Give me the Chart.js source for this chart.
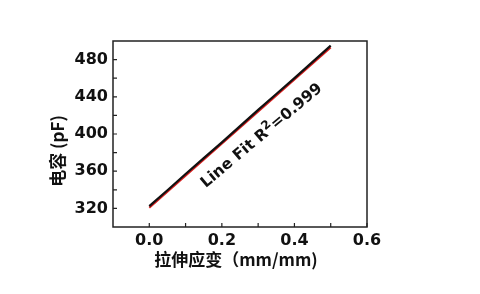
<!DOCTYPE html>
<html>
<head>
<meta charset="utf-8">
<script src="https://cdn.jsdelivr.net/npm/chart.js@4/dist/chart.umd.min.js"></script>
<style>
    html, body { margin: 0; padding: 0; background: #fff; }
    #wrap { width: 480px; height: 294px; }
</style>
</head>
<body>
<div id="wrap"><canvas id="chart" width="480" height="294"></canvas></div>
<script>
// measured strain (mm/mm) vs capacitance (pF)
const strain = [0, 0.05, 0.1, 0.15, 0.2, 0.25, 0.3, 0.35, 0.4, 0.45, 0.5];
const capacitance = [322.5, 339.5, 357, 374, 391, 408.5, 426, 443, 460, 477.5, 495];

// linear fit end points
const fitStrain = [0, 0.5];
const fitCapacitance = [320.8, 493];

const xTicks = [0, 0.2, 0.4, 0.6];
const xMinorTicks = [0.1, 0.3, 0.5];
const yTicks = [320, 360, 400, 440, 480];
const yMinorTicks = [340, 380, 420, 460];

const xTitle = "拉伸应变（mm/mm)";
const yTitle = "电容 (pF)";
const fitLabel = { x: 0.31, y: 398, text: "Line Fit R", sup: "2", tail: "=0.999" };

const FONT = "'DejaVu Sans', sans-serif";
const CJK = "'Noto Sans CJK SC', 'Open Sans', sans-serif";

const toPoints = (xs, ys) => xs.map((x, i) => ({ x, y: ys[i] }));

// frame, inward ticks, titles and fit label
const decorations = {
    id: 'decorations',
    afterDatasetsDraw(chart) {
        const { ctx, chartArea: a, scales: { x, y } } = chart;
        ctx.save();
        ctx.strokeStyle = '#222';
        ctx.lineWidth = 1.5;
        ctx.strokeRect(a.left, a.top, a.right - a.left, a.bottom - a.top);

        ctx.lineWidth = 1.2;
        ctx.beginPath();
        [...xTicks, ...xMinorTicks].forEach(v => {
            const px = x.getPixelForValue(v);
            ctx.moveTo(px, a.bottom);
            ctx.lineTo(px, a.bottom - 4);
        });
        [...yTicks, ...yMinorTicks].forEach(v => {
            const py = y.getPixelForValue(v);
            ctx.moveTo(a.left, py);
            ctx.lineTo(a.left + 4, py);
        });
        ctx.stroke();

        ctx.fillStyle = '#111';
        ctx.font = "bold 17px " + CJK;
        ctx.textAlign = 'center';
        ctx.textBaseline = 'middle';
        ctx.fillText(xTitle, (a.left + a.right) / 2 - 4, 260);

        ctx.save();
        ctx.translate(58, 151);
        ctx.rotate(-Math.PI / 2);
        ctx.fillText(yTitle, 0, 0);
        ctx.restore();

        // rotated fit annotation
        ctx.save();
        ctx.translate(x.getPixelForValue(fitLabel.x), y.getPixelForValue(fitLabel.y));
        ctx.rotate(-40 * Math.PI / 180);
        ctx.textAlign = 'left';
        ctx.textBaseline = 'middle';
        const big = "bold 15.5px " + FONT;
        const small = "bold 12px " + FONT;
        ctx.font = big;
        const w1 = ctx.measureText(fitLabel.text).width;
        const w3 = ctx.measureText(fitLabel.tail).width;
        ctx.font = small;
        const w2 = ctx.measureText(fitLabel.sup).width;
        let cx = -(w1 + w2 + w3) / 2;
        ctx.font = big;
        ctx.fillText(fitLabel.text, cx, 0);
        cx += w1;
        ctx.font = small;
        ctx.fillText(fitLabel.sup, cx, -5);
        cx += w2;
        ctx.font = big;
        ctx.fillText(fitLabel.tail, cx, 0);
        ctx.restore();

        ctx.restore();
    }
};

new Chart(document.getElementById('chart'), {
    type: 'scatter',
    data: {
        datasets: [
            {
                label: 'data',
                data: toPoints(strain, capacitance),
                showLine: true,
                borderColor: '#111',
                borderWidth: 2.2,
                pointRadius: 0,
                tension: 0
            },
            {
                label: 'fit',
                data: toPoints(fitStrain, fitCapacitance),
                showLine: true,
                borderColor: '#d81e1e',
                borderWidth: 2,
                pointRadius: 0
            }
        ]
    },
    options: {
        responsive: false,
        animation: false,
        layout: { padding: { left: 0, top: 41, right: 113, bottom: 0 } },
        plugins: {
            legend: { display: false },
            tooltip: { enabled: false }
        },
        scales: {
            x: {
                type: 'linear',
                min: -0.1,
                max: 0.6,
                afterBuildTicks: s => { s.ticks = xTicks.map(v => ({ value: v })); },
                afterFit: s => { s.height = 67; },
                grid: { display: false, drawTicks: false },
                border: { display: false },
                ticks: {
                    padding: 4,
                    color: '#111',
                    font: { family: FONT, size: 16, weight: 'bold' },
                    callback: v => v.toFixed(1)
                }
            },
            y: {
                min: 300,
                max: 500,
                afterBuildTicks: s => { s.ticks = yTicks.map(v => ({ value: v })); },
                afterFit: s => { s.width = 113; },
                grid: { display: false, drawTicks: false },
                border: { display: false },
                ticks: {
                    padding: 5,
                    color: '#111',
                    font: { family: FONT, size: 16, weight: 'bold' }
                }
            }
        }
    },
    plugins: [decorations]
});
</script>
</body>
</html>
